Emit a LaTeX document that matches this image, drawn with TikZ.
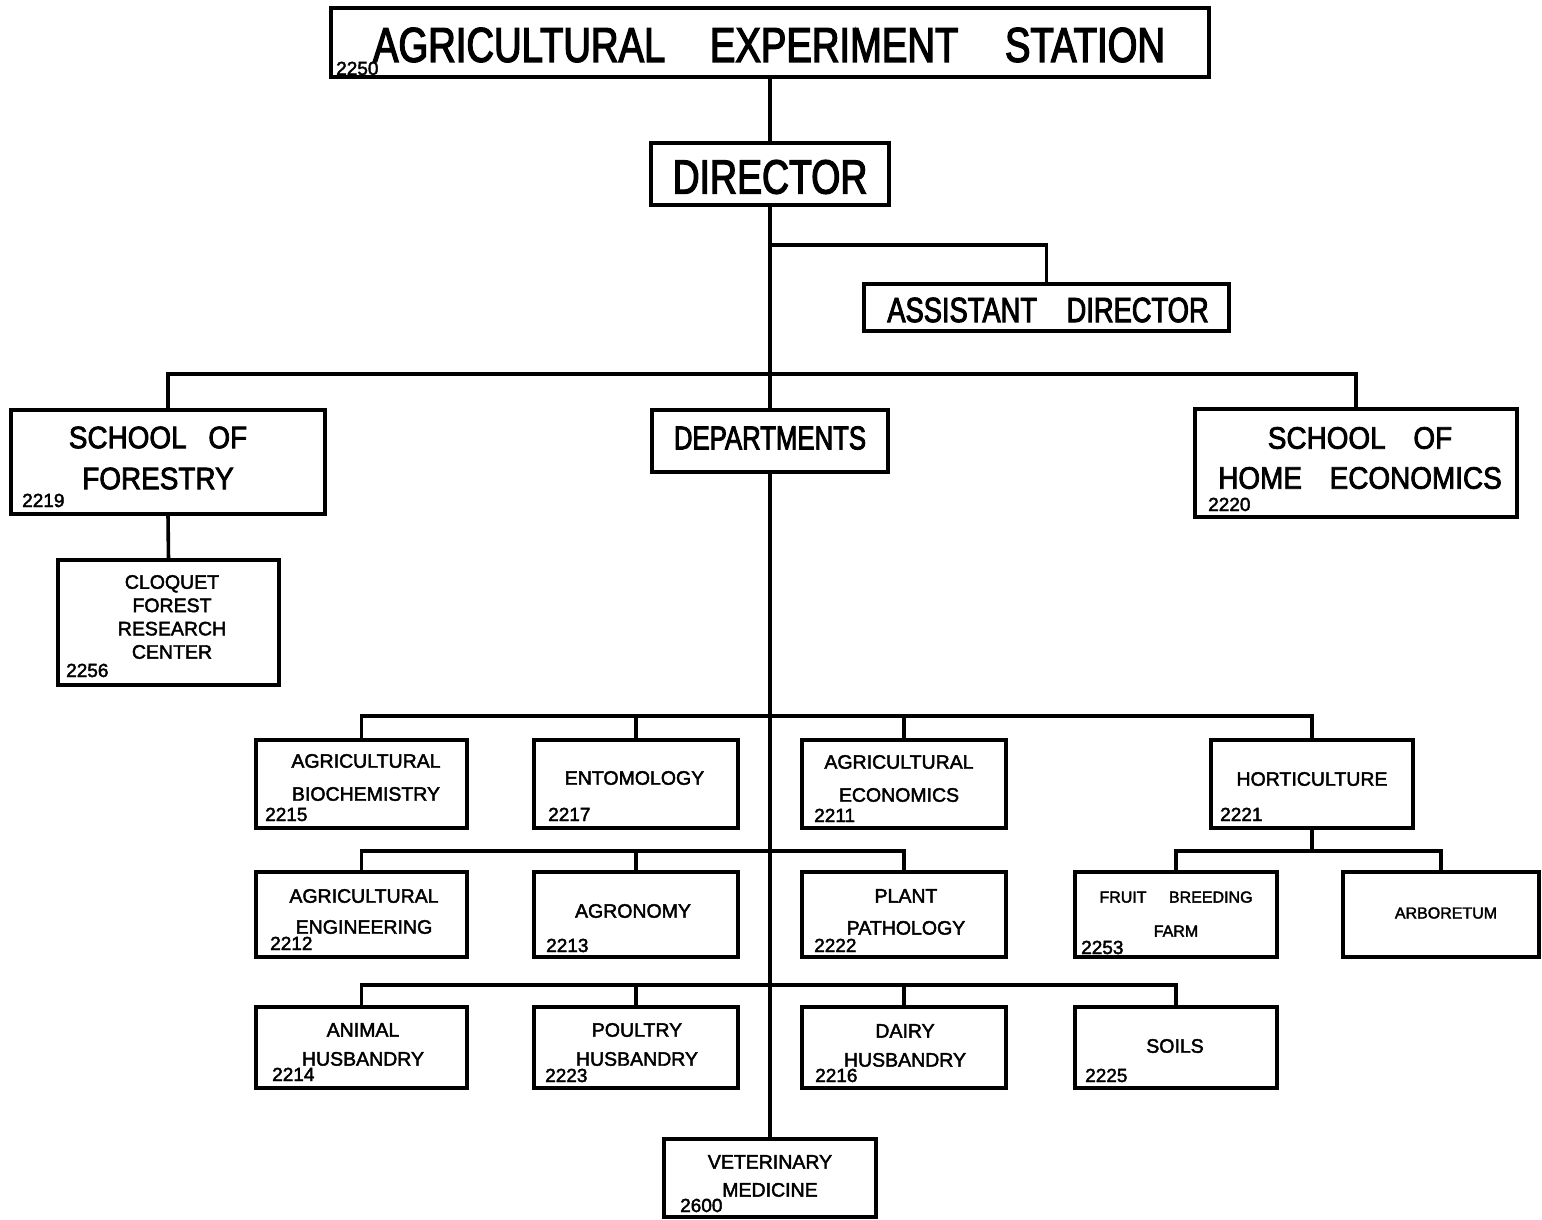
\documentclass[tikz,border=0pt]{standalone}
\usepackage{fontspec}
\setmainfont{Liberation Sans}
\newfontfamily\narrowA[FakeStretch=0.78,FakeBold=2.6]{Liberation Sans}
\newfontfamily\narrowB[FakeStretch=0.9,FakeBold=2.4]{Liberation Sans}
\newfontfamily\lblfont[FakeBold=2.2]{Liberation Sans}
\newcommand\mybox[5]{\node[box, minimum width={(#4)-(#2)}, minimum height={(#5)-(#3)}] (#1) at ({((#2)+(#4))/2},{((#3)+(#5))/2}) {};}
\begin{document}
\begin{tikzpicture}[x=1pt,y=-1pt,
  box/.style={draw=black, line width=3.2pt, fill=white, rectangle, inner sep=0pt, outer sep=0pt},
  conn/.style={line width=3.6pt},
  lbl/.style={align=center, inner sep=0pt},
  num/.style={anchor=base west, inner sep=0pt, font=\lblfont\fontsize{19}{19}\selectfont}]
\useasboundingbox (0,0) rectangle (1542,1219);
\fill[white] (0,0) rectangle (1542,1219);
% boxes
\mybox{aes}{331}{8}{1209}{77}
\mybox{dir}{651}{143}{889}{205}
\mybox{asst}{864}{284}{1229}{331}
\mybox{forest}{11}{410}{325}{514}
\mybox{dept}{652}{410}{888}{472}
\mybox{home}{1195}{409}{1517}{517}
\mybox{cloq}{58}{560}{279}{685}
\mybox{ab}{256}{740}{467}{828}
\mybox{ent}{534}{740}{738}{828}
\mybox{ae}{802}{740}{1006}{828}
\mybox{hort}{1211}{740}{1413}{828}
\mybox{ageng}{256}{872}{467}{957}
\mybox{agron}{534}{872}{738}{957}
\mybox{pp}{802}{872}{1006}{957}
\mybox{fbf}{1075}{872}{1277}{957}
\mybox{arb}{1343}{872}{1539}{957}
\mybox{ah}{256}{1007}{467}{1088}
\mybox{ph}{534}{1007}{738}{1088}
\mybox{dh}{802}{1007}{1006}{1088}
\mybox{soils}{1075}{1007}{1277}{1088}
\mybox{vet}{664}{1139}{876}{1217}
% connectors
\draw[conn] (aes.south) -- (dir.north);
\draw[conn] (dir.south) -- (dept.north);
\draw[conn] (dept.south) -- (vet.north);
\coordinate (jA) at (770,245);
\draw[conn] (jA) -| (asst.north);
\coordinate (jB) at (770,374);
\draw[conn] (forest.north) |- (jB) -| (home.north);
\draw[conn] (forest.south) -- (cloq.north);
\coordinate (jC) at (770,716);
\draw[conn] (ab.north) |- (jC) -| (hort.north);
\draw[conn] (ent.north) -- (ent.north |- jC);
\draw[conn] (ae.north) -- (ae.north |- jC);
\coordinate (jD) at (770,851);
\draw[conn] (ageng.north) |- (jD) -| (pp.north);
\draw[conn] (agron.north) -- (agron.north |- jD);
\coordinate (jE) at (770,985);
\draw[conn] (ah.north) |- (jE) -| (soils.north);
\draw[conn] (ph.north) -- (ph.north |- jE);
\draw[conn] (dh.north) -- (dh.north |- jE);
\coordinate (jF) at (1312,851);
\draw[conn] (hort.south) -- (jF);
\draw[conn] (fbf.north) |- (jF) -| (arb.north);
% labels
\node[lbl, font=\narrowA\fontsize{49}{49}\selectfont] (taes) at (769,45) {AGRICULTURAL\hspace{34pt} EXPERIMENT\hspace{36pt} STATION};
\node[lbl, font=\narrowA\fontsize{48}{48}\selectfont] (tdir) at (770,177) {DIRECTOR};
\node[lbl, font=\narrowA\fontsize{35}{35}\selectfont] (tasst) at (1048,310) {ASSISTANT\hspace{22pt} DIRECTOR};
\node[lbl, font=\narrowB\fontsize{31}{41}\selectfont] (tforest) at (158,458) {SCHOOL\hspace{14pt} OF\\FORESTRY};
\node[lbl, font=\narrowA\fontsize{33}{33}\selectfont] (tdept) at (770,438) {DEPARTMENTS};
\node[lbl, font=\narrowB\fontsize{31}{40}\selectfont] (thome) at (1360,458) {SCHOOL\hspace{20pt} OF\\HOME\hspace{20pt} ECONOMICS};
\node[lbl, font=\lblfont\fontsize{19.5}{23.3}\selectfont] (tcloq) at (172,617) {CLOQUET\\FOREST\\RESEARCH\\CENTER};
\node[lbl, font=\lblfont\fontsize{19.5}{33}\selectfont] (tab) at (366,777.5) {AGRICULTURAL\\BIOCHEMISTRY};
\node[lbl, font=\lblfont\fontsize{19.5}{33}\selectfont] (tent) at (634.5,778) {ENTOMOLOGY};
\node[lbl, font=\lblfont\fontsize{19.5}{33}\selectfont] (tae) at (899,778.5) {AGRICULTURAL\\ECONOMICS};
\node[lbl, font=\lblfont\fontsize{19.5}{33}\selectfont] (thort) at (1312,779) {HORTICULTURE};
\node[lbl, font=\lblfont\fontsize{19.5}{31}\selectfont] (tageng) at (364,911.5) {AGRICULTURAL\\ENGINEERING};
\node[lbl, font=\lblfont\fontsize{19.5}{31}\selectfont] (tagron) at (633,911) {AGRONOMY};
\node[lbl, font=\lblfont\fontsize{19.5}{32}\selectfont] (tpp) at (906,912) {PLANT\\PATHOLOGY};
\node[lbl, font=\lblfont\fontsize{16}{34}\selectfont] (tfbf) at (1176,914) {FRUIT\hspace{18pt} BREEDING\\FARM};
\node[lbl, font=\lblfont\fontsize{16}{34}\selectfont] (tarb) at (1446,913) {ARBORETUM};
\node[lbl, font=\lblfont\fontsize{19.5}{29}\selectfont] (tah) at (363,1044.5) {ANIMAL\\HUSBANDRY};
\node[lbl, font=\lblfont\fontsize{19.5}{29}\selectfont] (tph) at (637,1044.5) {POULTRY\\HUSBANDRY};
\node[lbl, font=\lblfont\fontsize{19.5}{29}\selectfont] (tdh) at (905,1045.5) {DAIRY\\HUSBANDRY};
\node[lbl, font=\lblfont\fontsize{19.5}{29}\selectfont] (tsoils) at (1175,1046) {SOILS};
\node[lbl, font=\lblfont\fontsize{19.5}{28}\selectfont] (tvet) at (770,1176) {VETERINARY\\MEDICINE};
% numbers
\node[num] (n2250) at (336,75) {2250};
\node[num] (n2219) at (22,507) {2219};
\node[num] (n2220) at (1208,511) {2220};
\node[num] (n2256) at (66,677) {2256};
\node[num] (n2215) at (265,821) {2215};
\node[num] (n2217) at (548,821) {2217};
\node[num] (n2211) at (814,822) {2211};
\node[num] (n2221) at (1220,821) {2221};
\node[num] (n2212) at (270,950) {2212};
\node[num] (n2213) at (546,952) {2213};
\node[num] (n2222) at (814,952) {2222};
\node[num] (n2253) at (1081,954) {2253};
\node[num] (n2214) at (272,1081) {2214};
\node[num] (n2223) at (545,1082) {2223};
\node[num] (n2216) at (815,1082) {2216};
\node[num] (n2225) at (1085,1082) {2225};
\node[num] (n2600) at (680,1212) {2600};
\end{tikzpicture}
\end{document}
